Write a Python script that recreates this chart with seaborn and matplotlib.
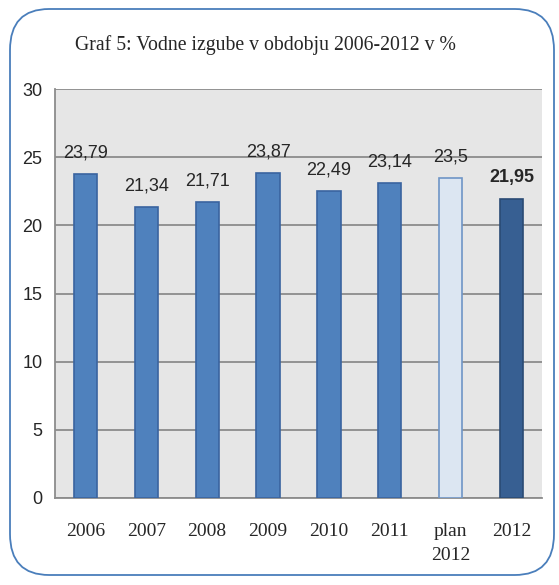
import matplotlib
matplotlib.use('Agg')
import matplotlib.pyplot as plt
import seaborn as sns
import pandas as pd
from matplotlib.patches import FancyBboxPatch

# Podatki
kategorije = ['2006', '2007', '2008', '2009', '2010', '2011', 'plan\n2012', '2012']
izgube = [23.79, 21.34, 21.71, 23.87, 22.49, 23.14, 23.5, 21.95]
oznake = ['23,79', '21,34', '21,71', '23,87', '22,49', '23,14', '23,5', '21,95']
barve = ['#4f81bd'] * 6 + ['#dce6f2', '#375f92']
robovi = ['#3a64a0'] * 6 + ['#6f95c6', '#2a4b74']

df = pd.DataFrame({'leto': kategorije, 'izgube': izgube})

sns.set_style('white')
plt.rcParams['font.family'] = ['Liberation Sans Narrow', 'Liberation Sans', 'DejaVu Sans']

fig = plt.figure(figsize=(5.59, 5.85), dpi=100)
ax = fig.add_axes([55 / 559, 1 - 498 / 585, (542 - 55) / 559, (498 - 89) / 585])

# zaobljen okvir
okvir = FancyBboxPatch((10 / 559, 10 / 585), 544 / 559, 566 / 585,
                       boxstyle='round,pad=0,rounding_size=0.07',
                       transform=fig.transFigure, facecolor='white',
                       edgecolor='#4a7ebb', linewidth=1.3, zorder=-10)
fig.patches.append(okvir)

ax.set_facecolor('#e6e6e6')
sns.barplot(data=df, x='leto', y='izgube', hue='leto', palette=barve,
            saturation=1, legend=False, width=0.38, ax=ax, zorder=3)
for p, ec in zip(ax.patches, robovi):
    p.set_edgecolor(ec)
    p.set_linewidth(1.2)

for i, (v, t) in enumerate(zip(izgube, oznake)):
    ax.annotate(t, (i, v), xytext=(0, 9), textcoords='offset points',
                ha='center', va='bottom', fontsize=13,
                fontweight='bold' if i == 7 else 'normal')

ax.set_ylim(0, 30)
ax.set_xlim(-0.5, 7.5)
ax.set_yticks(range(0, 31, 5))
ax.yaxis.grid(True, color='#8c8c8c', linewidth=1.3)
ax.set_axisbelow(True)
for s in ['top', 'right']:
    ax.spines[s].set_visible(False)
for s in ['left', 'bottom']:
    ax.spines[s].set_color('#8c8c8c')
    ax.spines[s].set_linewidth(1.3)

ax.tick_params(axis='y', length=5, color='#8c8c8c', width=1.2, labelsize=13, pad=4)
ax.set_xticks([x - 0.5 for x in range(9)], minor=True)
ax.tick_params(axis='x', which='major', length=0, pad=18)
ax.tick_params(axis='x', which='minor', length=6, color='#8c8c8c', width=1.2)
ax.set_xticks(range(8))
ax.set_xticklabels(kategorije, family='Liberation Serif', fontsize=14, linespacing=1.5)
ax.set_xlabel('')
ax.set_ylabel('')

fig.text(0.474, 1 - 45 / 585, 'Graf 5: Vodne izgube v obdobju 2006-2012 v %',
         family='Liberation Serif', fontsize=14.2, ha='center', va='center')

fig.savefig('out.png', dpi=100)
